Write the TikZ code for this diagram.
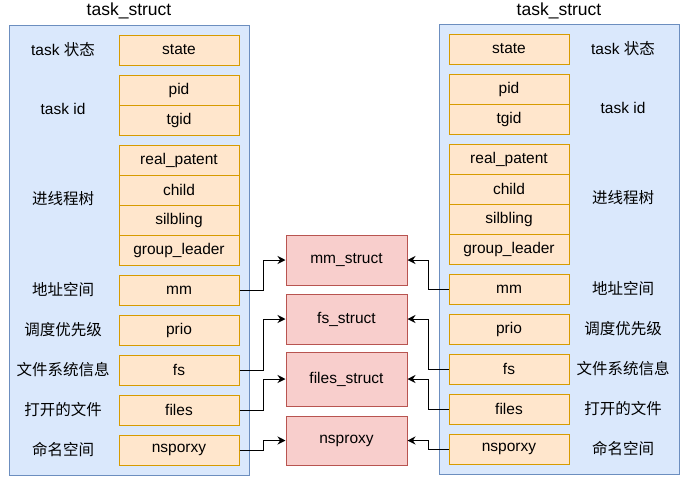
\documentclass[tikz,border=0pt]{standalone}
\usepackage{fontspec}
\setmainfont{Liberation Sans}
\newfontfamily\cjk{Noto Sans CJK SC}
\usetikzlibrary{arrows.meta}

\definecolor{panelfill}{HTML}{DAE8FC}
\definecolor{paneldraw}{HTML}{6C8EBF}
\definecolor{fieldfill}{HTML}{FFE6CC}
\definecolor{fielddraw}{HTML}{D79B00}
\definecolor{structfill}{HTML}{F8CECC}
\definecolor{structdraw}{HTML}{B85450}

\begin{document}
\begin{tikzpicture}[x=1pt,y=-1pt,font=\fontsize{15.5}{18}\selectfont]
\tikzstyle{panel}=[draw=paneldraw,fill=panelfill,line width=1pt]
\tikzstyle{field}=[draw=fielddraw,fill=fieldfill,line width=1pt,minimum width=120pt,minimum height=30pt,inner sep=0pt]
\tikzstyle{kstruct}=[draw=structdraw,fill=structfill,line width=1pt,minimum width=121pt,inner sep=0pt]
\tikzstyle{link}=[line width=1pt,-{Stealth[length=8pt,width=8pt]}]

\useasboundingbox (0,0) rectangle (691,485);

\draw[panel] (9,25) rectangle (249,475);
\draw[panel] (439,24) rectangle (679,474);

\node (ltitle) at (129,11) {\fontsize{17.5}{20}\selectfont task\_struct};
\node (rtitle) at (559,11) {\fontsize{17.5}{20}\selectfont task\_struct};

% fields of both task_struct
\foreach \name/\txt/\y in {state/state/50, pid/pid/90, tgid/tgid/120,
  real/real\_patent/160, child/child/190, silbling/silbling/220,
  group/group\_leader/250, mm/mm/290, prio/prio/330, fs/fs/370,
  files/files/410, ns/nsporxy/450}
{
  \node[field] (l\name) at (179,\y) {\txt};
  \node[field] (r\name) at (509,\y-1) {\txt};
}

% labels
\foreach \name/\txt/\y in {state/task {\cjk 状态}/50, id/task id/109,
  tree/{\cjk 进线程树}/199, mm/{\cjk 地址空间}/290, prio/{\cjk 调度优先级}/330,
  fs/{\cjk 文件系统信息}/370, files/{\cjk 打开的文件}/410, ns/{\cjk 命名空间}/450}
{
  \node (ll\name) at (63,\y) {\txt};
  \node (rl\name) at (623,\y-1) {\txt};
}

% shared structs
\node[kstruct,minimum height=50pt] (mmstruct) at (346.5,260) {mm\_struct};
\node[kstruct,minimum height=50pt] (fsstruct) at (346.5,319) {fs\_struct};
\node[kstruct,minimum height=54pt] (filesstruct) at (346.5,379) {files\_struct};
\node[kstruct,minimum height=49pt] (nsproxy) at (346.5,440.5) {nsproxy};

\draw[link] (lmm.east) -- ++(24,0) |- (mmstruct.west);
\draw[link] (lfs.east) -- ++(24,0) |- (fsstruct.west);
\draw[link] (lfiles.east) -- ++(24,0) |- (filesstruct.west);
\draw[link] (lns.east) -- ++(24,0) |- (nsproxy.west);

\draw[link] (rmm.west) -- ++(-20,0) |- (mmstruct.east);
\draw[link] (rfs.west) -- ++(-20,0) |- (fsstruct.east);
\draw[link] (rfiles.west) -- ++(-20,0) |- (filesstruct.east);
\draw[link] (rns.west) -- ++(-20,0) |- (nsproxy.east);

\end{tikzpicture}
\end{document}
